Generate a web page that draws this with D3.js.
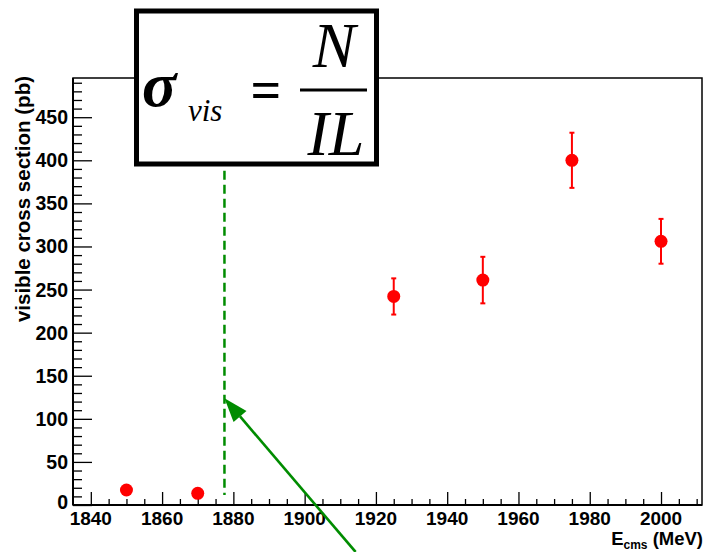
<!DOCTYPE html>
<html>
<head>
<meta charset="utf-8">
<script src="https://cdn.jsdelivr.net/npm/d3@7"></script>
<style>
  html, body { margin: 0; padding: 0; background: #fff; }
  svg { display: block; }
  .lbl { font-family: "Liberation Sans", Arial, sans-serif; font-weight: bold; fill: #000; }
</style>
</head>
<body>
<svg id="chart" width="704" height="552"></svg>
<script>
// Measured points: beam energy (MeV), visible cross section (pb) and its error
const energies = [1850, 1870, 1925, 1950, 1975, 2000];
const sigmaVis = [17.4, 13.6, 242, 261, 400, 306];
const sigmaErr = [3, 3, 21, 27, 32, 26];

// Axis ticks
const xMajorTicks = [1840, 1860, 1880, 1900, 1920, 1940, 1960, 1980, 2000];
const yMajorTicks = [0, 50, 100, 150, 200, 250, 300, 350, 400, 450];

// Threshold marker and the arrow pointing at it (data units)
const thresholdE = [1877.5];
const thresholdSpan = [11.5, 388];
const arrowTail = [1914.3, -54.5];
const arrowTip = [1877.5, 124];

const frame = { left: 73, right: 702, top: 78, bottom: 505 };

const svg = d3.select("#chart");

const x = d3.scaleLinear().domain([1835, 2011.5]).range([frame.left, frame.right]);
const y = d3.scaleLinear().domain([0, 495.5]).range([frame.bottom, frame.top]);

// Frame
svg.append("rect")
  .attr("x", frame.left).attr("y", frame.top)
  .attr("width", frame.right - frame.left).attr("height", frame.bottom - frame.top)
  .attr("fill", "none").attr("stroke", "#000").attr("stroke-width", 1.5);

function styleTicks(g) {
  g.select(".domain").remove();
  g.selectAll("line").attr("stroke", "#000").attr("stroke-width", 1.3);
}

// X axis: major ticks every 20, minor every 5
const xMinor = d3.range(1840, 2011, 5).filter(v => !xMajorTicks.includes(v));
const xAxisG = svg.append("g").attr("transform", `translate(0,${frame.bottom})`);
xAxisG.append("g").call(d3.axisTop(x).tickValues(xMajorTicks).tickSize(13).tickFormat("")).call(styleTicks);
xAxisG.append("g").call(d3.axisTop(x).tickValues(xMinor).tickSize(6).tickFormat("")).call(styleTicks);
xAxisG.append("line")
  .attr("x1", frame.left).attr("x2", frame.right)
  .attr("stroke", "#000").attr("stroke-width", 2);
xAxisG.selectAll("text.xl").data(xMajorTicks).join("text")
  .attr("class", "lbl xl")
  .attr("x", d => x(d)).attr("y", 20)
  .attr("text-anchor", "middle")
  .attr("font-size", 19)
  .text(d => d);

// Y axis: major ticks every 50, minor every 10
const yMinor = d3.range(0, 495, 10).filter(v => v % 50 !== 0);
const yAxisG = svg.append("g").attr("transform", `translate(${frame.left},0)`);
yAxisG.append("g").call(d3.axisRight(y).tickValues(yMajorTicks).tickSize(19).tickFormat("")).call(styleTicks);
yAxisG.append("g").call(d3.axisRight(y).tickValues(yMinor).tickSize(9).tickFormat("")).call(styleTicks);
yAxisG.append("line")
  .attr("y1", frame.top).attr("y2", frame.bottom)
  .attr("stroke", "#000").attr("stroke-width", 2);
yAxisG.selectAll("text.yl").data(yMajorTicks).join("text")
  .attr("class", "lbl yl")
  .attr("x", -5).attr("y", d => y(d) + 7 - (d === 0 ? 3 : 0))
  .attr("text-anchor", "end")
  .attr("font-size", 19.5)
  .text(d => d);

// Axis titles
const xTitle = svg.append("text")
  .attr("class", "lbl")
  .attr("x", 703).attr("y", 545)
  .attr("text-anchor", "end")
  .attr("font-size", 18.5);
xTitle.append("tspan").text("E");
xTitle.append("tspan").attr("font-size", 12).attr("dy", 4).text("cms");
xTitle.append("tspan").attr("dy", -4).text(" (MeV)");

svg.append("text")
  .attr("class", "lbl")
  .attr("transform", `translate(30,76) rotate(-90)`)
  .attr("text-anchor", "end")
  .attr("font-size", 20.5)
  .text("visible cross section (pb)");

// Data points with vertical error bars
const pts = energies.map((e, i) => ({ e, v: sigmaVis[i], err: sigmaErr[i] }));
const red = "#ff0000";
const ptG = svg.append("g");
ptG.selectAll("line.err").data(pts).join("line")
  .attr("class", "err")
  .attr("x1", d => x(d.e)).attr("x2", d => x(d.e))
  .attr("y1", d => y(d.v + d.err)).attr("y2", d => y(d.v - d.err))
  .attr("stroke", red).attr("stroke-width", 2);
ptG.selectAll("line.capTop").data(pts).join("line")
  .attr("class", "capTop")
  .attr("x1", d => x(d.e) - 2.5).attr("x2", d => x(d.e) + 2.5)
  .attr("y1", d => y(d.v + d.err)).attr("y2", d => y(d.v + d.err))
  .attr("stroke", red).attr("stroke-width", 2);
ptG.selectAll("line.capBot").data(pts).join("line")
  .attr("class", "capBot")
  .attr("x1", d => x(d.e) - 2.5).attr("x2", d => x(d.e) + 2.5)
  .attr("y1", d => y(d.v - d.err)).attr("y2", d => y(d.v - d.err))
  .attr("stroke", red).attr("stroke-width", 2);
ptG.selectAll("circle").data(pts).join("circle")
  .attr("cx", d => x(d.e)).attr("cy", d => y(d.v)).attr("r", 6.5)
  .attr("fill", red);

// Threshold line (dashed) and arrow
const green = "#008c00";
svg.append("line")
  .attr("x1", x(thresholdE[0])).attr("x2", x(thresholdE[0]))
  .attr("y1", y(thresholdSpan[1])).attr("y2", y(thresholdSpan[0]))
  .attr("stroke", green).attr("stroke-width", 2.5)
  .attr("stroke-dasharray", "9,5");

const tx = x(arrowTip[0]), ty = y(arrowTip[1]);
const sx = x(arrowTail[0]), sy = y(arrowTail[1]);
const ang = Math.atan2(ty - sy, tx - sx);
const headLen = 24, headHalf = 8.5;
const bx = tx - headLen * Math.cos(ang), by = ty - headLen * Math.sin(ang);
svg.append("line")
  .attr("x1", sx).attr("y1", sy).attr("x2", bx).attr("y2", by)
  .attr("stroke", green).attr("stroke-width", 2.6);
svg.append("path")
  .attr("d", d3.line()([
    [tx, ty],
    [bx + headHalf * Math.sin(ang), by - headHalf * Math.cos(ang)],
    [bx - headHalf * Math.sin(ang), by + headHalf * Math.cos(ang)]
  ]) + "Z")
  .attr("fill", green);

// Formula box
const box = svg.append("g");
box.append("rect")
  .attr("x", 136.5).attr("y", 11).attr("width", 240).attr("height", 153)
  .attr("fill", "#fff").attr("stroke", "#000").attr("stroke-width", 5);
const serif = "'Liberation Serif', 'Times New Roman', serif";
box.append("text")
  .attr("x", 142).attr("y", 106)
  .attr("font-family", serif).attr("font-style", "italic").attr("font-weight", "bold")
  .attr("font-size", 64).text("σ");
box.append("text")
  .attr("x", 188).attr("y", 121)
  .attr("font-family", serif).attr("font-style", "italic")
  .attr("font-size", 31).text("vis");
box.append("text")
  .attr("x", 266).attr("y", 108)
  .attr("text-anchor", "middle")
  .attr("font-family", serif).attr("font-weight", "bold")
  .attr("font-size", 54).text("=");
box.append("text")
  .attr("x", 334).attr("y", 67)
  .attr("text-anchor", "middle")
  .attr("font-family", serif).attr("font-style", "italic")
  .attr("font-size", 64).text("N");
box.append("line")
  .attr("x1", 300).attr("x2", 367).attr("y1", 90).attr("y2", 90)
  .attr("stroke", "#000").attr("stroke-width", 3);
box.append("text")
  .attr("x", 336).attr("y", 155)
  .attr("text-anchor", "middle")
  .attr("font-family", serif).attr("font-style", "italic")
  .attr("font-size", 64).text("IL");
</script>
</body>
</html>
